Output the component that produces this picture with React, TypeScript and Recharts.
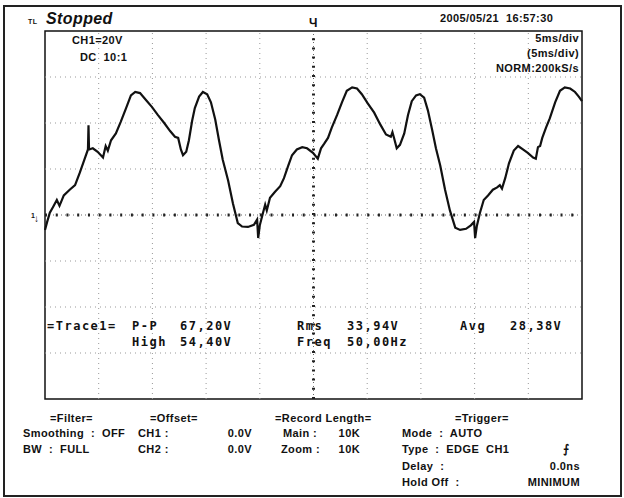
import { LineChart, Line, XAxis, YAxis, ReferenceLine, ReferenceArea } from "recharts";

// 5 ms/div, 10 divisions; 20 V/div, 8 divisions
const timeTicks = [0, 5, 10, 15, 20, 25, 30, 35, 40, 45, 50];
const voltTicks = [-80, -60, -40, -20, 0, 20, 40, 60, 80];

// CH1 trace (ms, V)
const timeMs = [
  0, 0.2, 0.45, 0.75, 1.1, 1.35, 1.75, 2.3, 2.8, 3.25, 3.7, 4.0, 4.05, 4.1, 4.45, 4.9, 5.4, 5.65, 5.85,
  6.15, 6.6, 7.05, 7.55, 8.0, 8.4, 8.85, 9.4, 9.95, 10.5, 11.1, 11.65, 12.1, 12.4, 12.65, 12.85, 13.15,
  13.4, 13.7, 13.95, 14.35, 14.7, 15.1, 15.45, 15.85, 16.2, 16.55, 17.05, 17.5, 17.95, 18.35, 18.9,
  19.45, 19.75, 19.85, 20.0, 20.3, 20.5, 20.65, 20.95, 21.4, 21.9, 22.25, 22.65, 23.0, 23.45, 23.95,
  24.4, 24.95, 25.4, 25.7, 26.0, 26.35, 26.7, 27.2, 27.65, 28.1, 28.6, 29.05, 29.5, 30.05, 30.65, 31.2,
  31.75, 32.2, 32.35, 32.5, 32.75, 33.05, 33.45, 33.8, 34.15, 34.55, 34.9, 35.3, 35.65, 36.05, 36.4,
  36.8, 37.25, 37.7, 38.2, 38.65, 39.2, 39.65, 39.95, 40.05, 40.2, 40.5, 40.85, 41.25, 41.7, 42.1,
  42.35, 42.55, 42.85, 43.2, 43.65, 44.05, 44.5, 44.95, 45.45, 45.7, 45.9, 46.1, 46.3, 46.65, 47.0,
  47.5, 47.95, 48.4, 48.9, 49.35, 49.7, 50.0,
];
const volts = [
  -6.5, -3.0, 1.0, 3.5, 6.5, 4.0, 8.5, 11.0, 13.0, 18.5, 24.5, 28.5, 39.0, 28.5, 29.0, 27.5, 25.0, 30.0, 28.0,
  32.5, 35.5, 40.5, 46.5, 52.0, 53.5, 53.0, 50.0, 47.0, 43.5, 40.0, 36.5, 34.0, 33.5, 28.5, 26.0, 27.5,
  32.5, 41.0, 46.5, 51.5, 53.5, 52.5, 49.0, 41.5, 32.5, 24.0, 15.0, 5.0, -3.5, -5.0, -5.2,
  -4.3, -2.0, -10.0, -4.5, 1.0, 4.5, 2.0, 7.5, 10.0, 12.5, 16.0, 21.5, 26.0, 28.5, 29.5,
  29.0, 27.0, 24.5, 29.0, 31.0, 33.5, 38.0, 43.5, 49.0, 54.0, 55.5, 55.0, 52.5, 48.5, 44.5, 39.5,
  35.0, 34.0, 36.0, 33.5, 29.0, 30.5, 35.5, 43.5, 49.5, 52.0, 52.5, 51.0, 45.5, 37.0, 29.0,
  21.5, 11.0, 2.0, -5.5, -6.5, -6.0, -4.5, -3.0, -10.0, -5.0, 1.0, 6.5, 8.5, 11.0, 12.0,
  13.0, 11.5, 16.0, 22.5, 28.0, 30.0, 28.5, 27.0, 25.0, 24.5, 29.5, 30.0, 33.5, 38.0, 42.0,
  49.0, 54.0, 55.5, 55.0, 53.5, 51.5, 49.5,
];

const data = timeMs.map((t, i) => ({ t, v: volts[i] }));

const mono = "'DejaVu Sans Mono', monospace";
const sans = "'Liberation Sans', Arial, sans-serif";

const txt = (x: number, y: number, s: string, extra: React.CSSProperties = {}) => (
  <div
    style={{
      position: "absolute",
      left: x,
      top: y,
      whiteSpace: "pre",
      fontFamily: sans,
      fontWeight: 700,
      fontSize: 11,
      letterSpacing: 0.4,
      color: "#111",
      lineHeight: 1,
      ...extra,
    }}
  >
    {s}
  </div>
);

const rtxt = (right: number, y: number, s: string, extra: React.CSSProperties = {}) =>
  txt(0, y, s, { left: undefined, right: 624 - right, ...extra });

const meas: React.CSSProperties = { fontFamily: mono, fontSize: 12, letterSpacing: 1.5, fontWeight: 700 };

export default function App() {
  return (
    <div style={{ position: "absolute", left: 0, top: 0, width: 624, height: 498, background: "#fff", overflow: "hidden" }}>
      <div style={{ position: "absolute", left: 3, top: 5, width: 615, height: 488, border: "2px solid #222" }} />
      <div style={{ position: "absolute", left: 0, top: 0 }}>
        <LineChart width={624} height={498} data={data} margin={{ top: 31, left: 45, right: 42, bottom: 99 }}>
          <XAxis dataKey="t" type="number" domain={[0, 50]} ticks={timeTicks} hide />
          <YAxis type="number" domain={[-80, 80]} ticks={voltTicks} hide />
          {timeTicks.slice(1, -1).filter((t) => t !== 25).map((t) => (
            <ReferenceLine key={"x" + t} x={t} stroke="#999" strokeDasharray="1 4" strokeWidth={1} />
          ))}
          {voltTicks.slice(1, -1).filter((v) => v !== 0).map((v) => (
            <ReferenceLine key={"y" + v} y={v} stroke="#999" strokeDasharray="1 4" strokeWidth={1} />
          ))}
          <ReferenceLine x={25} stroke="#666" strokeDasharray="1 3" />
          <ReferenceLine x={25} stroke="#222" strokeWidth={3} strokeDasharray="2 7.2" />
          <ReferenceLine y={0} stroke="#666" strokeDasharray="1 3" />
          <ReferenceLine y={0} stroke="#222" strokeWidth={3} strokeDasharray="2 8.74" />
          <ReferenceArea x1={0} x2={50} y1={-80} y2={80} fill="none" stroke="#111" strokeWidth={1.5} />
          <Line
            dataKey="v"
            type="linear"
            stroke="#111"
            strokeWidth={2.2}
            dot={false}
            isAnimationActive={false}
          />
        </LineChart>
      </div>

      {txt(28, 18, "TL", { fontSize: 7 })}
      {txt(46, 11, "Stopped", { fontSize: 16, fontStyle: "italic" })}
      {txt(309, 17, "Ч", { fontSize: 12 })}
      {txt(72, 35, "CH1=20V")}
      {txt(80, 52, "DC  10:1")}
      {txt(31, 212, "1", { fontSize: 7 })}
      {txt(34, 214, "↓", { fontSize: 10 })}

      {txt(440, 13, "2005/05/21  16:57:30", { fontWeight: 600 })}
      {rtxt(579, 33, "5ms/div", { fontWeight: 600 })}
      {rtxt(579, 48, "(5ms/div)", { fontWeight: 600 })}
      {rtxt(579, 63, "NORM:200kS/s", { fontWeight: 600 })}

      {txt(47, 320, "=Trace1=", meas)}
      {txt(132, 320, "P-P", meas)}
      {txt(180, 320, "67,20V", meas)}
      {txt(297, 320, "Rms", meas)}
      {txt(347, 320, "33,94V", meas)}
      {txt(460, 320, "Avg", meas)}
      {txt(510, 320, "28,38V", meas)}
      {txt(132, 336, "High", meas)}
      {txt(180, 336, "54,40V", meas)}
      {txt(297, 336, "Freq", meas)}
      {txt(347, 336, "50,00Hz", meas)}

      {txt(50, 413, "=Filter=")}
      {txt(23, 428, "Smoothing  :  OFF")}
      {txt(23, 444, "BW  :  FULL")}
      {txt(150, 413, "=Offset=")}
      {txt(138, 428, "CH1 :")}
      {rtxt(252, 428, "0.0V")}
      {txt(138, 444, "CH2 :")}
      {rtxt(252, 444, "0.0V")}
      {txt(275, 413, "=Record Length=")}
      {txt(283, 428, "Main :")}
      {rtxt(360, 428, "10K")}
      {txt(281, 444, "Zoom :")}
      {rtxt(360, 444, "10K")}
      {txt(455, 413, "=Trigger=")}
      {txt(402, 428, "Mode  :  AUTO")}
      {txt(402, 444, "Type  :  EDGE  CH1")}
      {txt(563, 443, "⨍", { fontSize: 12 })}
      {txt(402, 461, "Delay  :")}
      {rtxt(580, 461, "0.0ns")}
      {txt(402, 477, "Hold Off  :")}
      {rtxt(580, 477, "MINIMUM")}
    </div>
  );
}
